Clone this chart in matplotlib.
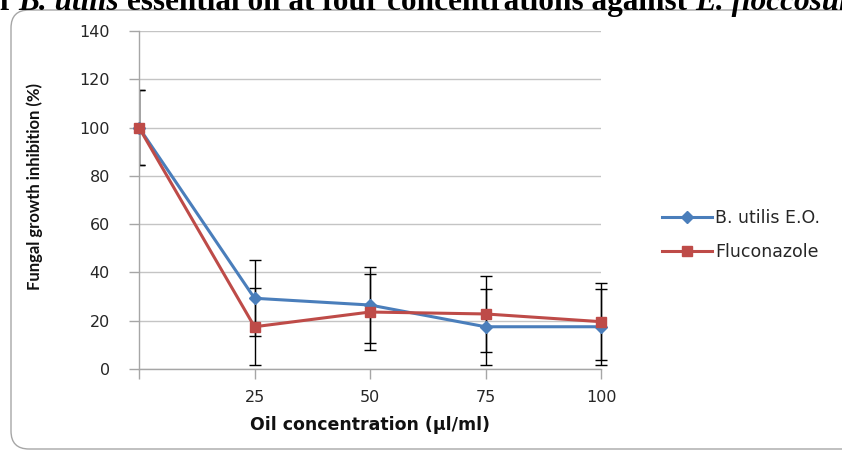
import matplotlib
matplotlib.use("Agg")
import matplotlib.pyplot as plt
from matplotlib.patches import FancyBboxPatch
from matplotlib.transforms import IdentityTransform

concentrations = [0, 25, 50, 75, 100]
tick_labels = ["", "25", "50", "75", "100"]
butilis = [100, 29.3, 26.5, 17.5, 17.5]
butilis_err = [15.5, 15.8, 15.7, 15.8, 15.8]
flucon = [100, 17.5, 23.6, 22.8, 19.6]
flucon_err = [15.5, 15.9, 15.8, 15.7, 15.9]
series_names = ["B. utilis E.O.", "Fluconazole"]

plt.rcParams['font.family'] = ['DejaVu Sans']

W, H = 842, 450
fig = plt.figure(figsize=(W / 100, H / 100), dpi=100)

# chart-area border
border = FancyBboxPatch((11, 1), 850, 439, boxstyle="round,pad=0,rounding_size=18",
                        transform=IdentityTransform(), facecolor="none",
                        edgecolor="#a6a6a6", linewidth=1.0)
fig.patches.append(border)

ax = fig.add_axes([139 / W, 1 - 369 / H, (601 - 139) / W, (369 - 31) / H])

blue = "#4A7EBB"
red = "#BE4B48"

# error bars: the first point is clipped by the plot area, the others are not
for vals, errs in [(butilis, butilis_err), (flucon, flucon_err)]:
    ax.errorbar(concentrations[:1], vals[:1], yerr=errs[:1], fmt='none', ecolor='black',
                elinewidth=1.0, capsize=4.5, capthick=1.0, zorder=2)
    eb = ax.errorbar(concentrations[1:], vals[1:], yerr=errs[1:], fmt='none',
                     ecolor='black', elinewidth=1.0, capsize=4.5, capthick=1.0, zorder=2)
    for art in eb.lines[1] + eb.lines[2]:
        art.set_clip_on(False)

ax.plot(concentrations, butilis, color=blue, lw=2.2, marker='D', ms=6,
        label=series_names[0], zorder=3, clip_on=False)
ax.plot(concentrations, flucon, color=red, lw=2.2, marker='s', ms=7.5,
        label=series_names[1], zorder=4, clip_on=False)

ax.set_xlim(0, 100)
ax.set_ylim(0, 140)
ax.set_yticks(range(0, 141, 20))
ax.set_xticks(concentrations)
ax.set_xticklabels(tick_labels)
ax.tick_params(axis='both', labelsize=11.5, labelcolor='#262626', direction='out',
               length=7, width=1, color='#a6a6a6')
ax.tick_params(axis='x', pad=8)
ax.tick_params(axis='y', pad=14)
for s in ['top', 'right']:
    ax.spines[s].set_visible(False)
for s in ['left', 'bottom']:
    ax.spines[s].set_color('#a6a6a6')
    ax.spines[s].set_linewidth(1)
ax.grid(axis='y', color='#c4c4c4', linewidth=1)
ax.set_axisbelow(True)

ax.set_xlabel("Oil concentration (µl/ml)", fontsize=12.5, fontweight='bold', color='#111111')
ax.xaxis.set_label_coords(0.5, (369 - 416) / 338)
ax.set_ylabel("Fungal growth inhibition (%)", fontsize=12, fontweight='bold',
              family=['Lato', 'DejaVu Sans'], color='#111111')
ax.yaxis.set_label_coords((43 - 139) / 462, (369 - 187) / 338)

leg = fig.legend(loc='center left', bbox_to_anchor=(646 / W, 1 - 235 / H),
                 frameon=False, fontsize=12.5, handlelength=2.9, labelspacing=0.95,
                 handletextpad=0.2)
for t in leg.get_texts():
    t.set_color('#262626')

# cut-off title at the top
renderer = fig.canvas.get_renderer()
tfont = dict(fontsize=22.5, fontweight='bold', family=['Liberation Serif', 'DejaVu Serif'])
probe = fig.text(0, 0, "o", **tfont)
ow = probe.get_window_extent(renderer).width
probe.remove()
pieces = [("of ", 'normal'), ("B. utilis", 'italic'),
          (" essential oil at four concentrations against ", 'normal'),
          ("E. floccosum", 'italic')]
x = -ow
yb = 1 - 10 / H
for txt, style in pieces:
    t = fig.text(x / W, yb, txt, fontstyle=style, va='baseline', ha='left', **tfont)
    bb = t.get_window_extent(renderer)
    x = bb.x1

fig.savefig("out.png", dpi=100)
